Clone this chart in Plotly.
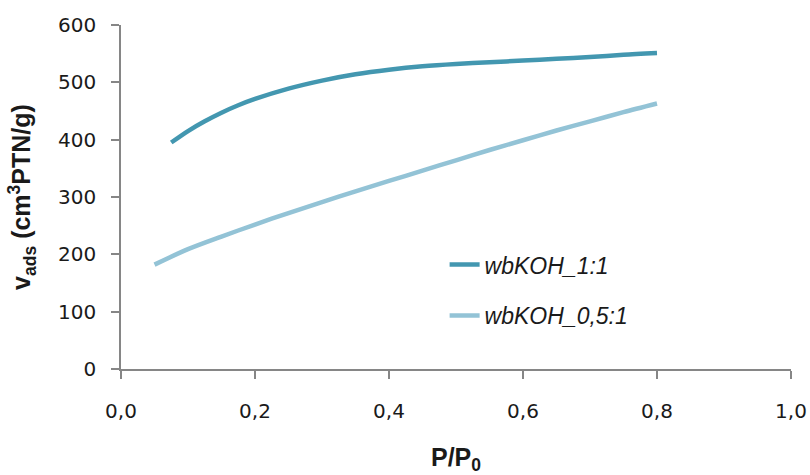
import plotly.graph_objects as go

# Data
p1 = [0.075, 0.1, 0.125, 0.15, 0.175, 0.2, 0.25, 0.3, 0.35, 0.4, 0.45, 0.5, 0.55, 0.6, 0.65, 0.7, 0.75, 0.8]
v1 = [395, 415, 432, 447, 460, 471, 489, 503, 514, 522, 528, 532, 535, 538, 541, 544, 548, 551]

p2 = [0.05, 0.1, 0.15, 0.2, 0.25, 0.3, 0.35, 0.4, 0.45, 0.5, 0.55, 0.6, 0.65, 0.7, 0.75, 0.8]
v2 = [182, 209, 231, 252, 272, 291, 310, 328, 346, 364, 382, 399, 416, 432, 448, 463]

names = ["wbKOH_1:1", "wbKOH_0,5:1"]
colors = ["#4397B0", "#93C3D6"]

x_ticks = [0, 0.2, 0.4, 0.6, 0.8, 1.0]
y_ticks = [0, 100, 200, 300, 400, 500, 600]

fig = go.Figure()
for xs, ys, nm, col in [(p1, v1, names[0], colors[0]), (p2, v2, names[1], colors[1])]:
    fig.add_trace(go.Scatter(
        x=xs, y=ys, mode="lines", name=nm, legendgroup=nm,
        line=dict(color=col, width=4.5, shape="spline", smoothing=0.8),
    ))

axis_common = dict(
    showgrid=False, zeroline=False, showline=True, linecolor="#868686", linewidth=1.5,
    ticks="outside", ticklen=8, tickwidth=1.5, tickcolor="#868686",
    tickfont=dict(family="DejaVu Sans", size=20, color="#1a1a1a"),
    automargin=False,
)

fig.update_layout(
    width=810, height=475,
    margin=dict(l=121, r=19, t=25, b=106),
    paper_bgcolor="white", plot_bgcolor="white",
    separators=",.",
    showlegend=True,
    legend=dict(
        x=0.483, y=0.366, xanchor="left", yanchor="top",
        font=dict(family="Liberation Sans", size=23, color="#1a1a1a", style="italic"),
        bgcolor="rgba(0,0,0,0)", tracegroupgap=18, itemwidth=30,
    ),
    xaxis=dict(
        range=[0, 1], tickvals=x_ticks, tickformat=".1f", ticklabelstandoff=15,
        title=dict(text="<b>P/P<sub>0</sub></b>", font=dict(family="Liberation Sans", size=25, color="#1a1a1a"), standoff=30),
        **axis_common,
    ),
    yaxis=dict(
        range=[0, 600], tickvals=y_ticks, ticklabelstandoff=11,
        title=dict(text="<b>v<sub>ads</sub> (cm<sup>3</sup>PTN/g)</b>", font=dict(family="Liberation Sans", size=25, color="#1a1a1a"), standoff=20),
        **axis_common,
    ),
)

fig.write_html("out.html")
